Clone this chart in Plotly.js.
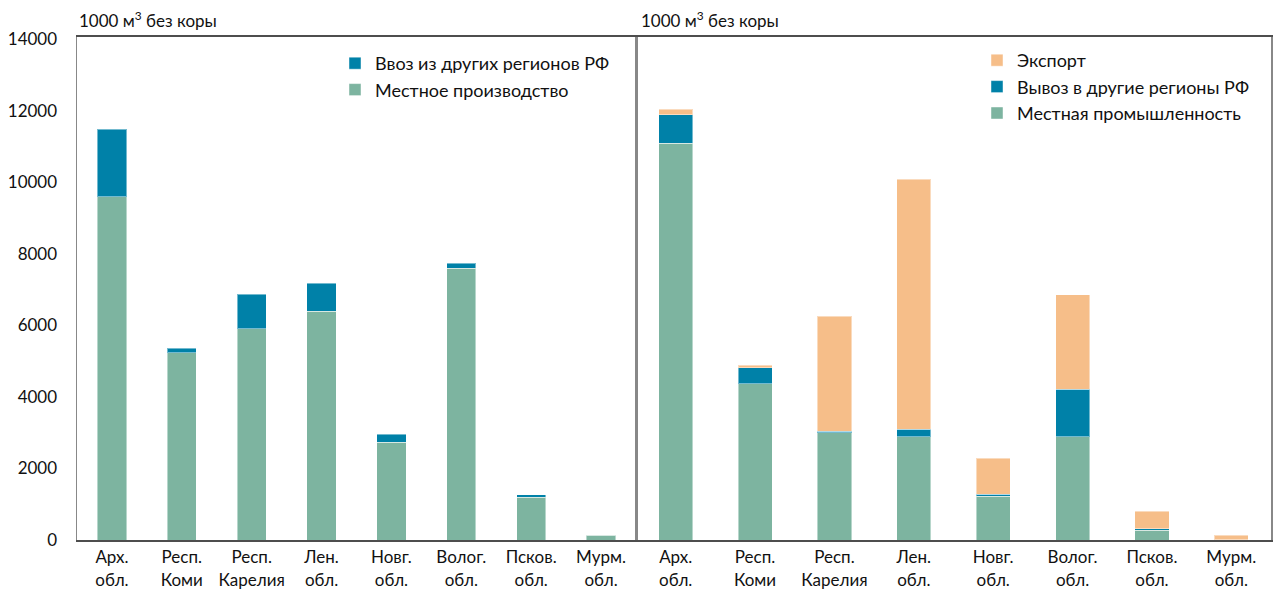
<!DOCTYPE html>
<html>
<head>
<meta charset="utf-8">
<script src="https://cdn.plot.ly/plotly-3.0.1.min.js"></script>
<style>html,body{margin:0;padding:0;background:#fff}#chart{width:1277px;height:591px}</style>
</head>
<body>
<div id="chart"></div>
<script>
// Categories (regions)
const categories = ["Арх.<br>обл.", "Респ.<br>Коми", "Респ.<br>Карелия", "Лен.<br>обл.", "Новг.<br>обл.", "Волог.<br>обл.", "Псков.<br>обл.", "Мурм.<br>обл."];

// Left panel: resources (1000 m3 without bark)
const localProduction = [9600, 5240, 5910, 6390, 2730, 7590, 1190, 130];
const importFromRegions = [1880, 120, 960, 780, 220, 140, 80, 0];

// Right panel: use
const localIndustry = [11090, 4370, 3000, 2880, 1220, 2880, 270, 10];
const exportToRegions = [800, 450, 40, 210, 60, 1330, 40, 0];
const exportAbroad = [150, 65, 3220, 6990, 1010, 2650, 500, 120];

const yTicks = [0, 2000, 4000, 6000, 8000, 10000, 12000, 14000];
const unitTitle = "1000 м<sup>3</sup> без коры";

const GREEN = "#7db4a0", BLUE = "#0081a8", ORANGE = "#f6be89";
const FONT = "Lato, 'DejaVu Sans', sans-serif";
const barLine = {width: 1, color: "rgba(255,255,255,0.45)"};

const traces = [
  {type: "bar", x: categories, y: localProduction, name: "Местное производство",
   marker: {color: GREEN, line: barLine}, xaxis: "x", yaxis: "y", legend: "legend", width: 0.42, legendrank: 2},
  {type: "bar", x: categories, y: importFromRegions, name: "Ввоз из других регионов РФ",
   marker: {color: BLUE, line: barLine}, xaxis: "x", yaxis: "y", legend: "legend", width: 0.42, legendrank: 1},
  {type: "bar", x: categories, y: localIndustry, name: "Местная промышленность",
   marker: {color: GREEN, line: barLine}, xaxis: "x2", yaxis: "y2", legend: "legend2", width: 0.43, legendrank: 3},
  {type: "bar", x: categories, y: exportToRegions, name: "Вывоз в другие регионы РФ",
   marker: {color: BLUE, line: barLine}, xaxis: "x2", yaxis: "y2", legend: "legend2", width: 0.43, legendrank: 2},
  {type: "bar", x: categories, y: exportAbroad, name: "Экспорт",
   marker: {color: ORANGE, line: barLine}, xaxis: "x2", yaxis: "y2", legend: "legend2", width: 0.43, legendrank: 1}
];

const split = (636 - 77) / 1194;
const yRange = [0, 14060];

const xCommon = {
  type: "category", categoryorder: "array", categoryarray: categories,
  range: [-0.5, 7.5], showline: true, mirror: true, linecolor: "#4d4d4d", linewidth: 2,
  showgrid: false, zeroline: false, ticks: "", ticklabelstandoff: 1,
  tickfont: {family: FONT, size: 17, color: "#111"}
};
const yCommon = {
  range: yRange, showline: true, mirror: true, linecolor: "#888", linewidth: 1.5,
  showgrid: false, zeroline: false, ticks: "", tickvals: yTicks, ticktext: yTicks.map(String),
  tickfont: {family: FONT, size: 17, color: "#111"}
};

const layout = {
  width: 1277, height: 591,
  margin: {l: 77, r: 6, t: 37, b: 51},
  paper_bgcolor: "#fff", plot_bgcolor: "#fff",
  barmode: "stack",
  font: {family: FONT, size: 17, color: "#111"},
  xaxis: Object.assign({}, xCommon, {domain: [0, split], anchor: "y"}),
  xaxis2: Object.assign({}, xCommon, {domain: [split, 1], anchor: "y2"}),
  yaxis: Object.assign({}, yCommon, {anchor: "x", ticklabelstandoff: 15}),
  yaxis2: Object.assign({}, yCommon, {anchor: "x2", showticklabels: false}),
  legend: {x: (335 - 77) / 1194, xanchor: "left", y: 1 - (45 - 37) / 503, yanchor: "top",
           traceorder: "normal", tracegroupgap: 0, bgcolor: "rgba(0,0,0,0)", font: {family: FONT, size: 18, color: "#111"}},
  legend2: {x: (977 - 77) / 1194, xanchor: "left", y: 1 - (42 - 37) / 503, yanchor: "top",
            traceorder: "normal", bgcolor: "rgba(0,0,0,0)",
            font: {family: FONT, size: 18, color: "#111"}},
  showlegend: true,
  annotations: [
    {text: unitTitle, xref: "paper", yref: "paper", x: 0, xanchor: "left",
     y: 1 + (37 - 20) / 503, yanchor: "middle", showarrow: false, font: {family: FONT, size: 17, color: "#111"}},
    {text: unitTitle, xref: "paper", yref: "paper", x: (639 - 77) / 1194, xanchor: "left",
     y: 1 + (37 - 20) / 503, yanchor: "middle", showarrow: false, font: {family: FONT, size: 17, color: "#111"}}
  ]
};

Plotly.newPlot("chart", traces, layout, {displayModeBar: false, staticPlot: true});
</script>
</body>
</html>
